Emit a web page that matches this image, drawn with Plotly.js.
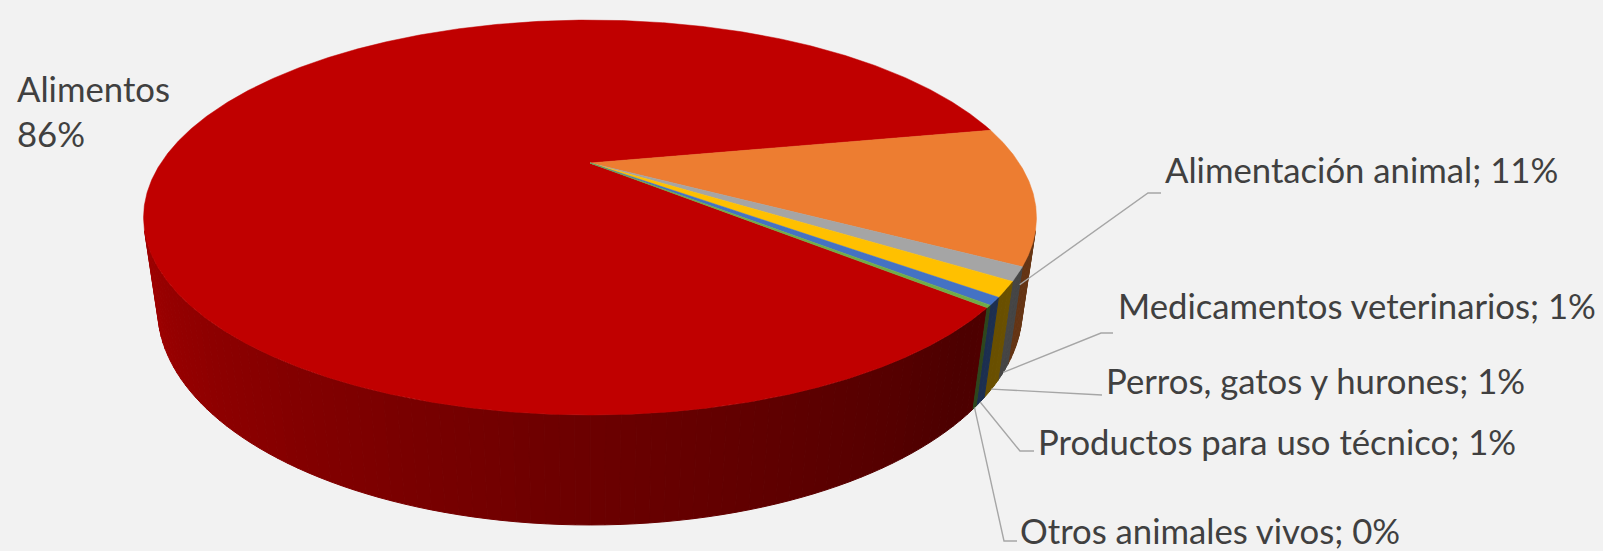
<!DOCTYPE html>
<html>
<head>
<meta charset="utf-8">
<script src="https://cdn.plot.ly/plotly-3.0.1.min.js"></script>
<style>
html,body{margin:0;padding:0;background:#F2F2F2;overflow:hidden;}
#chart{width:1603px;height:551px;}
</style>
</head>
<body>
<div id="chart"></div>
<script>
// ---------------- DATA ----------------
const categories = ["Alimentos", "Alimentación animal", "Medicamentos veterinarios",
                    "Perros, gatos y hurones", "Productos para uso técnico", "Otros animales vivos"];
const values = [85.7, 11.2, 1.1, 1.2, 0.6, 0.2];
const sliceColors = ["#C00000", "#ED7D31", "#A5A5A5", "#FFC000", "#4472C4", "#70AD47"];

// ---------------- VIEW (3D pie projection) ----------------
const W = 1603, H = 551;
const VIEW = {cx: 590, cy: 163, k: 1407, r: 0.305, h: 0.0711, sinPhi: 0.4251, startDeg: -40.6};
const cosPhi = Math.sqrt(1 - VIEW.sinPhi * VIEW.sinPhi);
const FONT = {family: "Lato, 'Open Sans', sans-serif", size: 34.7, color: "#404040"};

function proj(tDeg, z) {
  const t = tDeg * Math.PI / 180;
  const x = VIEW.r * Math.cos(t), y = VIEW.r * Math.sin(t);
  const vy = y + cosPhi, vz = z - VIEW.sinPhi;
  const depth = vy * cosPhi - vz * VIEW.sinPhi;
  const sy = vy * VIEW.sinPhi + vz * cosPhi;
  return [VIEW.cx + VIEW.k * x / depth, VIEW.cy - VIEW.k * sy / depth];
}
function hexRgb(hex) {
  const n = parseInt(hex.slice(1), 16);
  return [(n >> 16) & 255, (n >> 8) & 255, n & 255];
}
function norm(t) { return ((t + 180) % 360 + 360) % 360 - 180; }
function shadeFactor(tDeg) {
  const t = norm(tDeg);
  const knots = [[-180, 0.86], [-160, 0.83], [-90, 0.56], [-45, 0.40], [0, 0.46], [180, 0.86]];
  for (let i = 0; i < knots.length - 1; i++) {
    const [a, fa] = knots[i], [b, fb] = knots[i + 1];
    if (t >= a && t <= b) return fa + (fb - fa) * (t - a) / (b - a);
  }
  return 0.5;
}
function shade(hex, f) {
  const [r, g, b] = hexRgb(hex);
  return `rgb(${Math.round(r * f)},${Math.round(g * f)},${Math.round(b * f)})`;
}

const total = values.reduce((a, b) => a + b, 0);
let cum = 0;
const slices = values.map((v, i) => {
  const t0 = VIEW.startDeg - cum / total * 360;
  cum += v;
  const t1 = VIEW.startDeg - cum / total * 360;
  return {i, t0, t1, mid: (t0 + t1) / 2, pct: Math.round(v / total * 100)};
});

const traces = [];
// ---- outer walls (only camera-facing part) ----
const alpha = Math.asin(VIEW.r / cosPhi) * 180 / Math.PI;
slices.forEach(s => {
  const lo = s.t1, hi = s.t0;
  for (let k = -2; k <= 1; k++) {
    const vLo = -180 + alpha + 360 * k, vHi = -alpha + 360 * k;
    const a = Math.max(lo, vLo), b = Math.min(hi, vHi);
    if (b <= a) continue;
    const n = Math.max(1, Math.ceil((b - a) / 1.5));
    for (let j = 0; j < n; j++) {
      const ta = a + (b - a) * j / n, tb = a + (b - a) * (j + 1) / n;
      const tm = (ta + tb) / 2;
      const pts = [proj(ta, 0), proj(tb, 0), proj(tb, -VIEW.h), proj(ta, -VIEW.h), proj(ta, 0)];
      const col = shade(sliceColors[s.i], shadeFactor(tm));
      traces.push({type: "scatter", mode: "lines", x: pts.map(p => p[0]), y: pts.map(p => p[1]),
        fill: "toself", fillcolor: col, line: {color: col, width: 1}, hoverinfo: "skip"});
    }
  }
});
// ---- top faces ----
slices.forEach(s => {
  const n = Math.max(2, Math.ceil(Math.abs(s.t0 - s.t1) / 0.25));
  const pts = [[VIEW.cx, VIEW.cy]];
  for (let j = 0; j <= n; j++) pts.push(proj(s.t0 + (s.t1 - s.t0) * j / n, 0));
  pts.push(pts[0]);
  traces.push({type: "scatter", mode: "lines", x: pts.map(p => p[0]), y: pts.map(p => p[1]),
    fill: "toself", fillcolor: sliceColors[s.i], line: {color: sliceColors[s.i], width: 0.5}, hoverinfo: "skip"});
});
// ---- rim highlight on the big slice ----
{
  const s = slices[0];
  const a = Math.max(s.t1 + 360, -180 + alpha), b = Math.min(s.t0, -alpha);
  const hx = [], hy = [];
  for (let t = a; t <= b; t += 0.5) { const p = proj(t, 0); hx.push(p[0]); hy.push(p[1]); }
  traces.push({type: "scatter", mode: "lines", x: hx, y: hy,
    line: {color: "rgba(236,30,30,0.85)", width: 2}, hoverinfo: "skip"});
}
// ---- leader lines & labels ----
const labelLayout = [
  null,
  {elbow: [1148, 193], end: [1161, 193], tx: 1163, ty: 169},
  {elbow: [1101, 333], end: [1113, 333], tx: 1116, ty: 305},
  {elbow: [1099, 395], end: [1102, 395], tx: 1104, ty: 380},
  {elbow: [1020, 451], end: [1034, 451], tx: 1036, ty: 441},
  {elbow: [1004, 541], end: [1017, 541], tx: 1018, ty: 551, boxH: 38}
];
const annotations = [];
slices.forEach(s => {
  if (s.i === 0) {
    annotations.push({x: 15, y: 111, xref: "x", yref: "y", xanchor: "left", yanchor: "middle",
      align: "left", showarrow: false, text: `${categories[0]}<br>${s.pct}%`, font: FONT});
    return;
  }
  const L = labelLayout[s.i];
  const a = proj(s.mid, -VIEW.h);
  traces.push({type: "scatter", mode: "lines", x: [a[0], L.elbow[0], L.end[0]], y: [a[1], L.elbow[1], L.end[1]],
    line: {color: "#A6A6A6", width: 1.4}, hoverinfo: "skip"});
  const ann = {x: L.tx, y: L.ty, xref: "x", yref: "y", xanchor: "left", yanchor: "middle",
    showarrow: false, text: `${categories[s.i]}; ${s.pct}%`, font: FONT};
  if (L.boxH) { ann.yanchor = "bottom"; ann.height = L.boxH; ann.valign = "middle"; }
  annotations.push(ann);
});

const layout = {
  width: W, height: H,
  margin: {l: 0, r: 0, t: 0, b: 0},
  paper_bgcolor: "#F2F2F2", plot_bgcolor: "#F2F2F2",
  showlegend: false,
  xaxis: {range: [0, W], autorange: false, visible: false, fixedrange: true},
  yaxis: {range: [H, 0], autorange: false, visible: false, fixedrange: true},
  annotations: annotations
};
Plotly.newPlot("chart", traces, layout, {staticPlot: true, displayModeBar: false});
</script>
</body>
</html>
